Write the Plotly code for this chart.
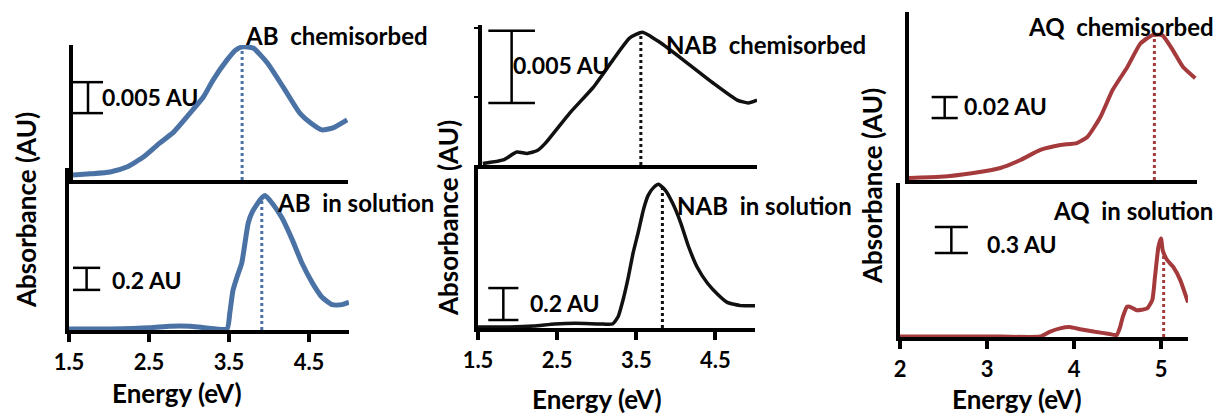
import numpy as np
import plotly.graph_objects as go

W, H = 1221, 416

# ---------------- data (energy in eV, absorbance in AU) ----------------
ab_chem_E = [1.50, 1.72, 1.97, 2.18, 2.39, 2.60, 2.77, 2.98, 3.15, 3.27, 3.45, 3.56, 3.65,
             3.78, 3.96, 4.16, 4.37, 4.53, 4.65, 4.79, 4.97]
ab_chem_A = [0.0008, 0.0010, 0.0013, 0.0021, 0.0037, 0.0060, 0.0077, 0.0108, 0.0134, 0.0161,
             0.0194, 0.0210, 0.0215, 0.0213, 0.0189, 0.0150, 0.0108, 0.0090, 0.0081, 0.0084, 0.0097]

ab_sol_E = [1.50, 2.01, 2.51, 2.76, 3.01, 3.20, 3.475, 3.51, 3.55, 3.60, 3.66, 3.70, 3.74, 3.79,
            3.85, 3.91, 3.95, 4.04, 4.16, 4.29, 4.41, 4.54, 4.66, 4.79, 4.91, 5.00]
ab_sol_A = [0.01, 0.01, 0.02, 0.035, 0.035, 0.02, 0.01, 0.155, 0.36, 0.48, 0.61, 0.79, 0.97, 1.07,
            1.14, 1.20, 1.22, 1.15, 1.02, 0.82, 0.61, 0.43, 0.30, 0.23, 0.23, 0.25]

nab_chem_E = [1.51, 1.77, 1.94, 2.07, 2.20, 2.30, 2.61, 2.91, 3.16, 3.37, 3.53, 3.75, 4.09, 4.42,
              4.73, 4.87, 4.98]
nab_chem_A = [0.0001, 0.00035, 0.0009, 0.0008, 0.0010, 0.0015, 0.0036, 0.0054, 0.0073, 0.0088,
              0.0092, 0.0085, 0.0071, 0.0057, 0.0045, 0.0043, 0.0045]

nab_sol_E = [1.50, 1.90, 2.20, 2.47, 2.73, 3.04, 3.20, 3.27, 3.34, 3.40, 3.46, 3.53, 3.59, 3.65,
             3.72, 3.78, 3.87, 3.96, 4.06, 4.16, 4.27, 4.40, 4.53, 4.65, 4.82, 5.00]
nab_sol_A = [0.006, 0.006, 0.012, 0.025, 0.030, 0.025, 0.025, 0.07, 0.19, 0.32, 0.47, 0.61, 0.74,
             0.83, 0.88, 0.90, 0.86, 0.78, 0.66, 0.51, 0.38, 0.28, 0.21, 0.16, 0.14, 0.14]

aq_chem_E = [2.00, 2.36, 2.74, 3.05, 3.28, 3.51, 3.74, 3.93, 4.05, 4.20, 4.34, 4.51, 4.66, 4.80,
             4.91, 5.03, 5.15, 5.29]
aq_chem_A = [0.002, 0.003, 0.0067, 0.0114, 0.019, 0.0286, 0.0333, 0.0352, 0.041, 0.060, 0.0857,
             0.1076, 0.130, 0.138, 0.138, 0.124, 0.1076, 0.097]

aq_sol_E = [2.00, 3.15, 3.61, 3.72, 3.84, 3.95, 4.07, 4.24, 4.41, 4.49, 4.53, 4.56, 4.61, 4.64,
            4.72, 4.84, 4.90, 4.93, 4.97, 5.00, 5.02, 5.07, 5.14, 5.22, 5.31]
aq_sol_A = [0.005, 0.005, 0.005, 0.06, 0.10, 0.115, 0.09, 0.06, 0.035, 0.023, 0.115, 0.23, 0.35,
            0.35, 0.31, 0.33, 0.43, 0.69, 1.04, 1.14, 1.00, 0.89, 0.81, 0.66, 0.40]

# peak markers (eV)
peak_E = [3.64, 3.91, 3.51, 3.83, 4.82, 5.03]
# scale bars (AU) and their labels
scale_val = [0.005, 0.2, 0.005, 0.2, 0.02, 0.3]
scale_lbl = ["0.005 AU", "0.2 AU", "0.005 AU", "0.2 AU", "0.02 AU", "0.3 AU"]
titles = ["AB  chemisorbed", "AB  in solution", "NAB  chemisorbed", "NAB  in solution",
          "AQ  chemisorbed", "AQ  in solution"]
ticks_ab = [1.5, 2.5, 3.5, 4.5]
ticks_nab = [1.5, 2.5, 3.5, 4.5]
ticks_aq = [2, 3, 4, 5]

BLUE = "#4B72A5"
BLACK = "#111111"
RED = "#A53A3C"
FONT = "Lato"

panels = [
    dict(E=ab_chem_E, A=ab_chem_A, c=BLUE, lw=5, xpx=(73, 348), ypx=(45, 180), xr=[1.5, 4.98], yr=[0, 0.0218],
         bar=(1.50, 1.88, 0.0108), lab=(1.84, 0.0134), ttl=(243, 35), ticks=None),
    dict(E=ab_sol_E, A=ab_sol_A, c=BLUE, lw=5, xpx=(69, 349), ypx=(168, 330), xr=[1.5, 5.0], yr=[0, 1.47],
         bar=(1.55, 1.89, 0.364), lab=(2.01, 0.455), ttl=(275, 202), ticks=ticks_ab),
    dict(E=nab_chem_E, A=nab_chem_A, c=BLACK, lw=3.5, xpx=(482, 757), ypx=(25, 165), xr=[1.5, 4.98], yr=[0, 0.0097],
         bar=(1.58, 2.17, 0.0043), lab=(1.87, 0.0069), ttl=(664, 45), ticks=None),
    dict(E=nab_sol_E, A=nab_sol_A, c=BLACK, lw=3.5, xpx=(478, 755), ypx=(165, 328), xr=[1.5, 5.0], yr=[0, 1.02],
         bar=(1.63, 2.01, 0.05), lab=(2.13, 0.156), ttl=(675, 205), ticks=ticks_nab),
    dict(E=aq_chem_E, A=aq_chem_A, c=RED, lw=4, xpx=(909, 1197), ypx=(12, 180), xr=[2.0, 5.31], yr=[0, 0.16],
         bar=(2.26, 2.56, 0.059), lab=(2.61, 0.0705), ttl=(1026, 26), ticks=None),
    dict(E=aq_sol_E, A=aq_sol_A, c=RED, lw=4, xpx=(900, 1188), ypx=(183, 337), xr=[2.0, 5.31], yr=[0, 1.78],
         bar=(2.40, 2.78, 0.97), lab=(2.98, 1.08), ttl=(1051, 210), ticks=ticks_aq),
]

fig = go.Figure()
shapes, annots = [], []
for i, p in enumerate(panels):
    n = "" if i == 0 else str(i + 1)
    xa, ya = "x" + n, "y" + n
    fig.add_trace(go.Scatter(x=p["E"], y=p["A"], mode="lines", xaxis=xa, yaxis=ya,
                             line=dict(color=p["c"], width=p["lw"], shape="spline", smoothing=0.5),
                             showlegend=False, hoverinfo="x+y"))
    xdom = [p["xpx"][0] / W, p["xpx"][1] / W]
    ydom = [1 - p["ypx"][1] / H, 1 - p["ypx"][0] / H]
    xaxis = dict(domain=xdom, range=p["xr"], anchor=ya, showline=True, linecolor="black", linewidth=3.5,
                 showgrid=False, zeroline=False, fixedrange=True)
    if p["ticks"] is not None:
        xaxis.update(tickmode="array", tickvals=p["ticks"], ticktext=[f"{t:g}" for t in p["ticks"]],
                     ticks="outside", ticklen=8, tickwidth=3.5, tickcolor="black",
                     tickfont=dict(family=FONT, size=22, color="black", weight="bold"),
                     ticklabelstandoff=2)
    else:
        xaxis.update(showticklabels=False, ticks="")
    yaxis = dict(domain=ydom, range=p["yr"], anchor=xa, showline=True, linecolor="black", linewidth=3.5,
                 showgrid=False, zeroline=False, showticklabels=False, ticks="", fixedrange=True)
    if i == 2:
        yaxis.update(ticks="outside", ticklen=4, tickwidth=2, tickcolor="black",
                     tickmode="array", tickvals=[0.0047, 0.0095])
    fig.layout["xaxis" + n] = xaxis
    fig.layout["yaxis" + n] = yaxis

    # dotted peak line
    pe = peak_E[i]
    top = float(np.interp(pe, p["E"], p["A"]))
    shapes.append(dict(type="line", xref=xa, yref=ya, x0=pe, x1=pe, y0=0, y1=top,
                       line=dict(color=p["c"], width=3, dash="dot")))
    # scale bar
    x0, x1, yb = p["bar"]
    xm = (x0 + x1) / 2
    yt = yb + scale_val[i]
    for (a, b, c, d) in [(x0, x1, yb, yb), (x0, x1, yt, yt), (xm, xm, yb, yt)]:
        shapes.append(dict(type="line", xref=xa, yref=ya, x0=a, x1=b, y0=c, y1=d,
                           line=dict(color="black", width=2.5)))
    annots.append(dict(text=scale_lbl[i], xref=xa, yref=ya, x=p["lab"][0], y=p["lab"][1],
                       xanchor="left", yanchor="middle", showarrow=False,
                       font=dict(family=FONT, size=23, color="black", weight="bold")))
    # title
    annots.append(dict(text=titles[i], xref="paper", yref="paper", x=p["ttl"][0] / W, y=1 - p["ttl"][1] / H,
                       xanchor="left", yanchor="middle", showarrow=False,
                       font=dict(family=FONT, size=24, color="black", weight="bold")))

# axis titles
for cx, cy in [(177, 393), (597, 399), (1017, 399)]:
    annots.append(dict(text="Energy (eV)", xref="paper", yref="paper", x=cx / W, y=1 - cy / H,
                       xanchor="center", yanchor="middle", showarrow=False,
                       font=dict(family=FONT, size=26, color="black", weight="bold")))
for cx, cy in [(26, 210), (448, 218), (872, 186)]:
    annots.append(dict(text="Absorbance (AU)", xref="paper", yref="paper", x=cx / W, y=1 - cy / H,
                       xanchor="center", yanchor="middle", textangle=-90, showarrow=False,
                       font=dict(family=FONT, size=26, color="black", weight="bold")))

fig.update_layout(width=W, height=H, margin=dict(l=0, r=0, t=0, b=0, autoexpand=False),
                  paper_bgcolor="white", plot_bgcolor="rgba(0,0,0,0)",
                  shapes=shapes, annotations=annots, showlegend=False)
fig.write_html("out.html")
